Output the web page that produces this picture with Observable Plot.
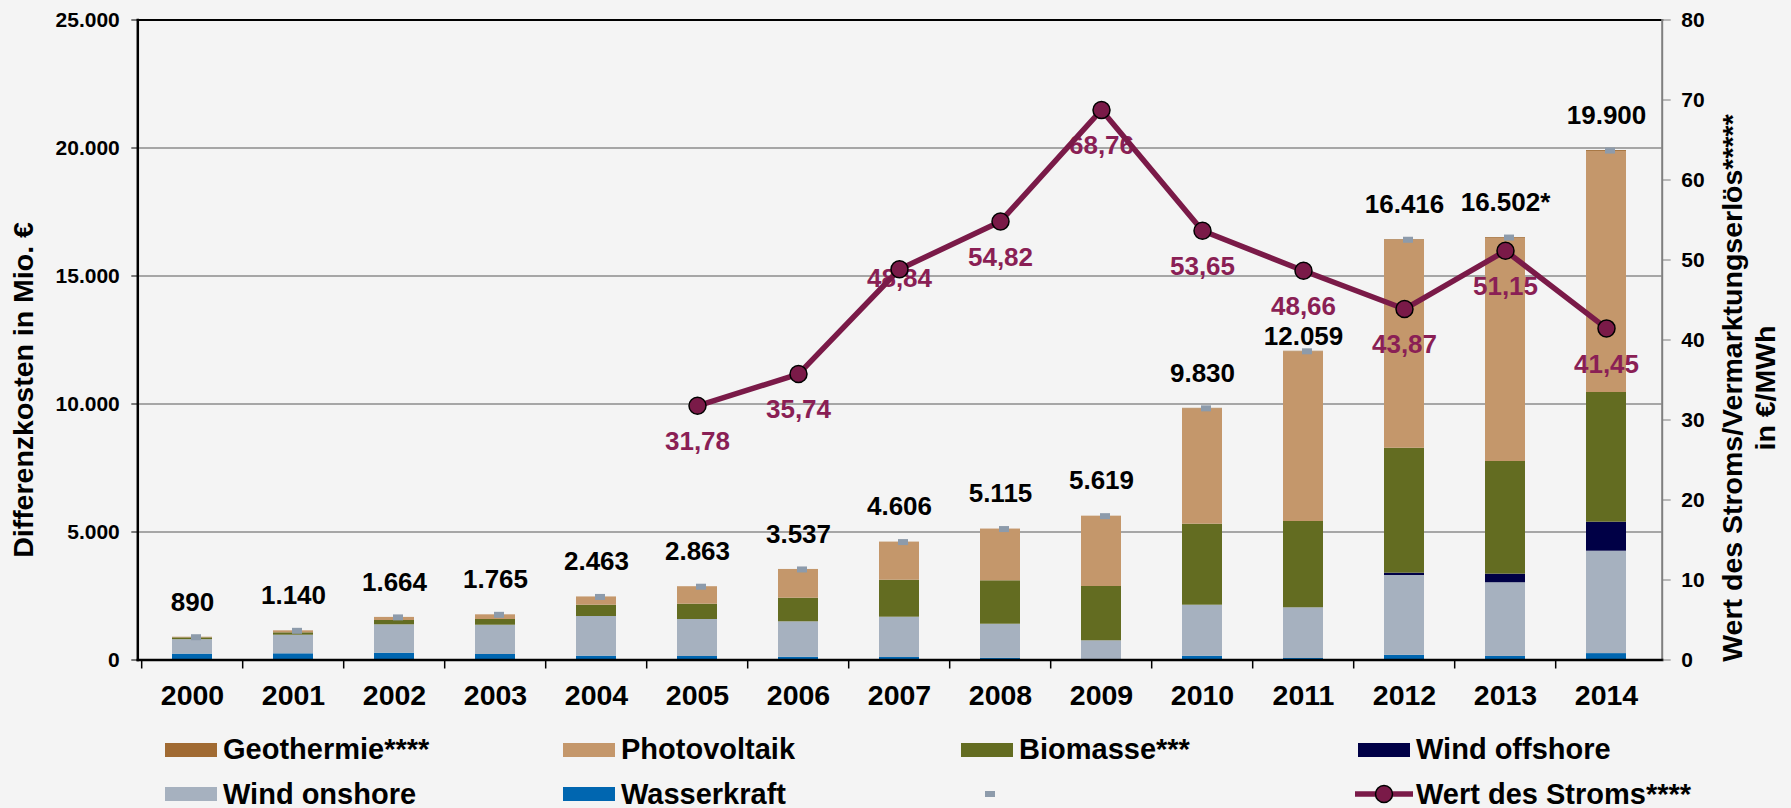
<!DOCTYPE html>
<html><head><meta charset="utf-8">
<script src="https://cdn.jsdelivr.net/npm/d3@7"></script>
<script src="https://cdn.jsdelivr.net/npm/@observablehq/plot@0.6"></script>
<style>
html,body{margin:0;padding:0;background:#f4f4f4;}
body{width:1791px;height:808px;position:relative;overflow:hidden;font-family:"Liberation Sans",Arial,sans-serif;font-weight:bold;}
#chart svg{display:block;}
.item{position:absolute;display:flex;align-items:center;height:40px;font-size:29px;line-height:1;color:#000;white-space:nowrap;}
.sw{width:52px;height:14px;margin-right:6px;flex:none;}
</style></head><body>
<div id="chart"></div>
<div id="legend"></div>
<script>
// ---- data (Mio. €) ----
const years = ["2000","2001","2002","2003","2004","2005","2006","2007","2008","2009","2010","2011","2012","2013","2014"];
const wasserkraft  = [230, 242, 266, 215, 150, 137, 109,   98,   70,    0,  148,   59,  182,  139,  250];
const windOnshore  = [565, 727,1109,1144,1549,1445,1383, 1574, 1328,  750, 1993, 1980, 3119, 2879, 4000];
const windOffshore = [  0,   0,   0,   0,   0,   0,   0,    0,    0,    0,    0,    0,   90,  336, 1133];
const biomasse     = [ 70,  93, 168, 223, 442, 598, 922, 1445, 1696, 2121, 3164, 3371, 4882, 4400, 5066];
const photovoltaik = [ 25,  78, 121, 183, 322, 683,1123, 1489, 2021, 2748, 4505, 6629, 8118, 8718, 9416];
const geothermie   = [  0,   0,   0,   0,   0,   0,   0,    0,    0,    0,   20,   20,   25,   30,   35];
const totals       = [890,1140,1664,1765,2463,2863,3537, 4606, 5115, 5619, 9830,12059,16416,16502,19900];
const totalLabels  = ["890","1.140","1.664","1.765","2.463","2.863","3.537","4.606","5.115","5.619","9.830","12.059","16.416","16.502*","19.900"];
// Wert des Stroms (€/MWh)
const stromYears = ["2005","2006","2007","2008","2009","2010","2011","2012","2013","2014"];
const stromWert  = [31.78, 35.74, 48.84, 54.82, 68.76, 53.65, 48.66, 43.87, 51.15, 41.45];
const leftTicks  = [0, 5000, 10000, 15000, 20000, 25000];
const rightTicks = [0, 10, 20, 30, 40, 50, 60, 70, 80];

const seriesNames  = ["Wasserkraft","Wind onshore","Wind offshore","Biomasse***","Photovoltaik","Geothermie****"];
const seriesValues = [wasserkraft, windOnshore, windOffshore, biomasse, photovoltaik, geothermie];
const seriesColors = ["#0066b0","#a6b1bf","#000046","#636c21","#c4976b","#a06a32"];

// ---- derived tables ----
const rows = years.flatMap((yr, i) => seriesNames.map((s, k) => ({year: yr, series: s, value: seriesValues[k][i]})));
const totalRows = years.map((yr, i) => ({year: yr, total: totals[i], label: totalLabels[i]}));
const ratio = 25000 / 80; // right axis (0–80) onto left axis (0–25.000)
const stromRows = stromYears.map((yr, i) => ({year: yr, v: stromWert[i] * ratio, label: stromWert[i].toFixed(2).replace(".", ",")}));
const de = d3.formatLocale({decimal: ",", thousands: ".", grouping: [3], currency: ["", "€"]});
const fmt = de.format(",d");

const W = 1791, H = 720, ML = 137.3, MR = 129.3, MT = 19.5, MB = 60.5;
const step = (W - ML - MR) / years.length;

const svg = Plot.plot({
  width: W, height: H,
  marginLeft: ML, marginRight: MR, marginTop: MT, marginBottom: MB,
  style: {background: "#f4f4f4", fontFamily: "'Liberation Sans', Arial, sans-serif", fontWeight: "bold", color: "#000", overflow: "visible"},
  x: {domain: years, paddingInner: 0.6, paddingOuter: 0.3, axis: null},
  y: {domain: [0, 25000], axis: null},
  color: {domain: seriesNames, range: seriesColors},
  marks: [
    Plot.ruleY([5000, 10000, 15000, 20000], {stroke: "#8c8c8c", strokeWidth: 1.6}),
    Plot.barY(rows, {x: "year", y: "value", fill: "series", order: seriesNames}),
    Plot.tickY(totalRows, {x: "year", y: "total", stroke: "#8d9bab", strokeWidth: 6, insetLeft: 15, insetRight: 15, dx: 4}),
    Plot.text(totalRows.filter(d => d.year !== "2011"), {x: "year", y: "total", text: "label", dy: -35, fontSize: 26, fill: "#000"}),
    Plot.text(totalRows.filter(d => d.year === "2011"), {x: "year", y: "total", text: "label", dy: -15, fontSize: 26, fill: "#000"}),
    Plot.text(stromRows.filter(d => d.year !== "2007"), {x: "year", y: "v", text: "label", dy: 36, fontSize: 26, fill: "#8a1f55"}),
    Plot.text(stromRows.filter(d => d.year === "2007"), {x: "year", y: "v", text: "label", dy: 9, fontSize: 26, fill: "#8a1f55"}),
    Plot.line(stromRows, {x: "year", y: "v", stroke: "#7a1a48", strokeWidth: 5.5}),
    Plot.dot(stromRows, {x: "year", y: "v", r: 8.5, fill: "#7a1a48", stroke: "#000", strokeWidth: 1.5}),
    Plot.frame({anchor: "top", stroke: "#000", strokeWidth: 2}),
    Plot.frame({anchor: "right", stroke: "#7f7f7f", strokeWidth: 2}),
    Plot.frame({anchor: "left", stroke: "#000", strokeWidth: 2.5}),
    Plot.frame({anchor: "bottom", stroke: "#000", strokeWidth: 2.5}),
    Plot.ruleX(years, {x: d => d, y1: 0, y2: 0, dx: -step / 2, insetBottom: -9, stroke: "#000", strokeWidth: 1.5}),
    Plot.axisY({anchor: "left", ticks: leftTicks, tickFormat: fmt, tickSize: 6, tickPadding: 12, fontSize: 21, label: null, stroke: "#000"}),
    Plot.axisY({anchor: "right", ticks: rightTicks.map(v => v * ratio), tickFormat: d => String(Math.round(d / ratio)), tickSize: 8, tickPadding: 11, fontSize: 21, label: null, stroke: "#7f7f7f"}),
    Plot.axisX({anchor: "bottom", tickSize: 0, tickPadding: 25, fontSize: 28.5, label: null})
  ]
});

const s = d3.select(svg);
s.append("text").attr("transform", "translate(33,390) rotate(-90)").attr("text-anchor", "middle")
  .attr("font-size", 28.5).attr("fill", "#000").text("Differenzkosten in Mio. €");
s.append("text").attr("transform", "translate(1742,388) rotate(-90)").attr("text-anchor", "middle")
  .attr("font-size", 28.5).attr("fill", "#000").text("Wert des Stroms/Vermarktungserlös*****");
s.append("text").attr("transform", "translate(1775,388) rotate(-90)").attr("text-anchor", "middle")
  .attr("font-size", 28.5).attr("fill", "#000").text("in €/MWh");
document.getElementById("chart").appendChild(svg);

// ---- legend (HTML, below the SVG) ----
const legendItems = [
  {name: "Geothermie****", color: "#a06a32", x: 165, cy: 749.5},
  {name: "Photovoltaik", color: "#c4976b", x: 563, cy: 749.5},
  {name: "Biomasse***", color: "#636c21", x: 961, cy: 749.5},
  {name: "Wind offshore", color: "#000046", x: 1358, cy: 749.5},
  {name: "Wind onshore", color: "#a6b1bf", x: 165, cy: 794},
  {name: "Wasserkraft", color: "#0066b0", x: 563, cy: 794}
];
const leg = document.getElementById("legend");
for (const it of legendItems) {
  const d = document.createElement("div");
  d.className = "item";
  d.style.left = it.x + "px";
  d.style.top = (it.cy - 20) + "px";
  d.innerHTML = `<span class="sw" style="background:${it.color}"></span><span>${it.name}</span>`;
  leg.appendChild(d);
}
// grey marker entry (no text)
const m = document.createElement("div");
m.style.cssText = "position:absolute;left:985px;top:791px;width:10px;height:6px;background:#8d9bab;";
leg.appendChild(m);
// line entry
const ln = document.createElement("div");
ln.className = "item";
ln.style.left = "1355px";
ln.style.top = (794 - 20) + "px";
ln.innerHTML = `<svg width="58" height="24" style="margin-right:3px;flex:none"><line x1="0" y1="12" x2="58" y2="12" stroke="#7a1a48" stroke-width="5.5"/><circle cx="29" cy="12" r="8.5" fill="#7a1a48" stroke="#000" stroke-width="1.5"/></svg><span>Wert des Stroms****</span>`;
leg.appendChild(ln);
</script></body></html>
